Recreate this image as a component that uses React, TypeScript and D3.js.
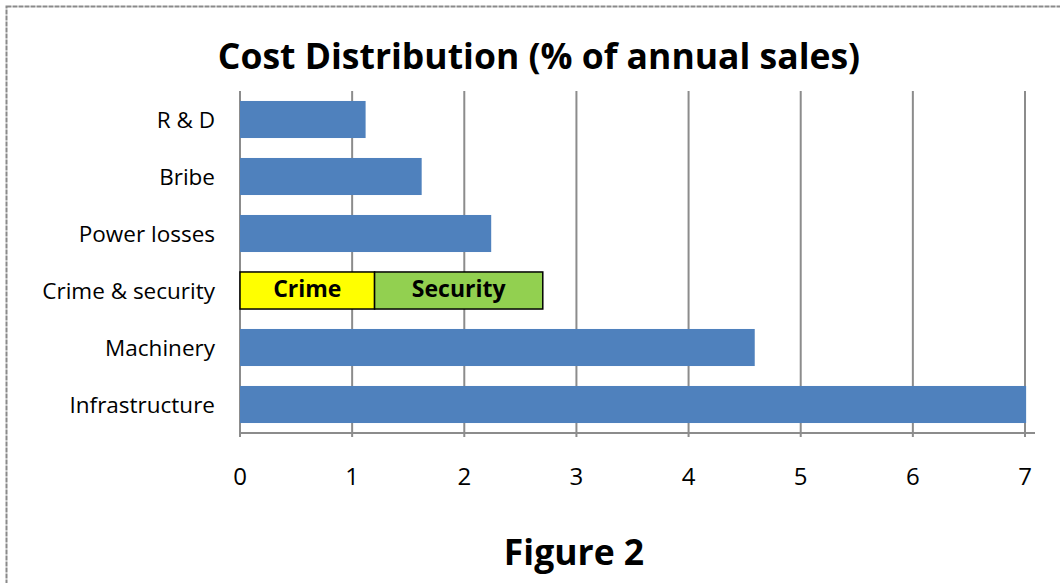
import React from "react";
import * as d3 from "d3";

const categories = ["R & D", "Bribe", "Power losses", "Crime & security", "Machinery", "Infrastructure"];
const values = [1.12, 1.62, 2.24, 0, 4.59, 7.01];
const stackCategory = "Crime & security";
const stackParts = ["Crime", "Security"];
const stackValues = [1.2, 1.5];
const stackColors = ["#FFFF00", "#92D050"];
const xTicks = [0, 1, 2, 3, 4, 5, 6, 7];

const W = 1060;
const H = 583;
const FONT = "Open Sans, Noto Sans, sans-serif";

export default function App() {
  const x = d3.scaleLinear().domain([0, 7]).range([240, 1025]);
  const y = d3.scaleBand<string>().domain(categories).range([91, 433]).paddingInner(0.35).paddingOuter(0.175);
  const bw = y.bandwidth();
  let acc = 0;
  const segs = stackValues.map((v, i) => {
    const s = { name: stackParts[i], x0: acc, x1: acc + v, color: stackColors[i] };
    acc += v;
    return s;
  });
  return (
    <svg width={W} height={H} style={{ position: "absolute", left: 0, top: 0, background: "#fff" }}>
      <rect x={6.5} y={6.5} width={W + 10} height={H + 10} fill="none" stroke="#8a8a8a" strokeWidth={2} strokeDasharray="5 1" />
      <text x={539} y={69} textAnchor="middle" fontFamily={FONT} fontWeight="bold" fontSize={35.5} fill="#000">
        Cost Distribution (% of annual sales)
      </text>
      {xTicks.map((t) => (
        <line key={"g" + t} x1={x(t)} x2={x(t)} y1={91} y2={437} stroke="#8c8c8c" strokeWidth={2} />
      ))}
      <line x1={240} x2={1035} y1={433} y2={433} stroke="#8c8c8c" strokeWidth={2} />
      {categories.map((c, i) =>
        c === stackCategory ? null : (
          <rect key={c} x={x(0)} y={y(c)!} width={x(values[i]) - x(0)} height={bw} fill="#4F81BD" />
        )
      )}
      {segs.map((s) => (
        <g key={s.name}>
          <rect x={x(s.x0)} y={y(stackCategory)!} width={x(s.x1) - x(s.x0)} height={bw} fill={s.color} stroke="#000" strokeWidth={1.5} />
          <text x={(x(s.x0) + x(s.x1)) / 2} y={y(stackCategory)! + bw / 2 + 6} textAnchor="middle" fontFamily={FONT} fontWeight="bold" fontSize={23} fill="#000">
            {s.name}
          </text>
        </g>
      ))}
      {categories.map((c) => (
        <text key={"l" + c} x={215} y={y(c)! + bw / 2 + 8.5} textAnchor="end" fontFamily={FONT} fontSize={22.5} fill="#000">
          {c}
        </text>
      ))}
      {xTicks.map((t) => (
        <text key={"t" + t} x={x(t)} y={485} textAnchor="middle" fontFamily={FONT} fontSize={24} fill="#000">
          {t}
        </text>
      ))}
      <text x={574} y={565} textAnchor="middle" fontFamily={FONT} fontWeight="bold" fontSize={35.5} fill="#000">
        Figure 2
      </text>
    </svg>
  );
}
